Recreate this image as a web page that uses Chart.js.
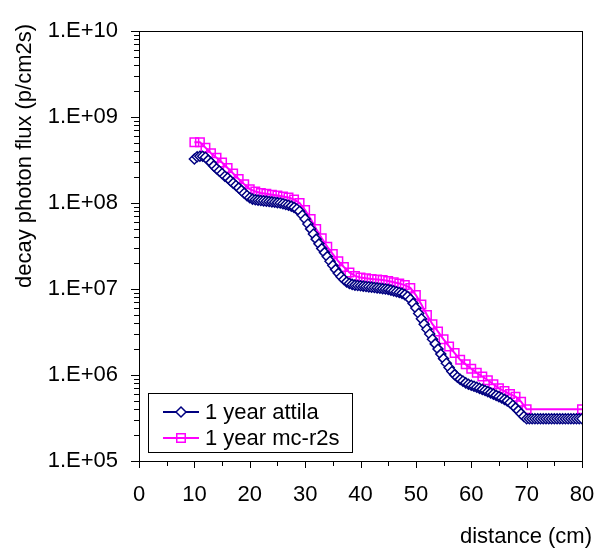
<!DOCTYPE html>
<html>
<head>
<meta charset="utf-8">
<script src="https://cdn.jsdelivr.net/npm/chart.js@4.4.1/dist/chart.umd.min.js"></script>
<style>
  body { margin: 0; background: #fff; }
</style>
</head>
<body>
<canvas id="grafico" width="604" height="550"></canvas>
<script>
// flujo de fotones de decaimiento, 1 año (attila, malla de 0.5 cm)
var attilaDist = [
  10, 10.5, 11, 11.5, 12, 12.5, 13, 13.5, 14, 14.5,
  15, 15.5, 16, 16.5, 17, 17.5, 18, 18.5, 19, 19.5,
  20, 20.5, 21, 21.5, 22, 22.5, 23, 23.5, 24, 24.5,
  25, 25.5, 26, 26.5, 27, 27.5, 28, 28.5, 29, 29.5,
  30, 30.5, 31, 31.5, 32, 32.5, 33, 33.5, 34, 34.5,
  35, 35.5, 36, 36.5, 37, 37.5, 38, 38.5, 39, 39.5,
  40, 40.5, 41, 41.5, 42, 42.5, 43, 43.5, 44, 44.5,
  45, 45.5, 46, 46.5, 47, 47.5, 48, 48.5, 49, 49.5,
  50, 50.5, 51, 51.5, 52, 52.5, 53, 53.5, 54, 54.5,
  55, 55.5, 56, 56.5, 57, 57.5, 58, 58.5, 59, 59.5,
  60, 60.5, 61, 61.5, 62, 62.5, 63, 63.5, 64, 64.5,
  65, 65.5, 66, 66.5, 67, 67.5, 68, 68.5, 69, 69.5,
  70, 70.5, 71, 71.5, 72, 72.5, 73, 73.5, 74, 74.5,
  75, 75.5, 76, 76.5, 77, 77.5, 78, 78.5, 79, 79.5,
  80
];
var attilaFlux = [
  3.25e8, 3.45e8, 3.5e8, 3.5e8, 3.4e8, 3.15e8, 2.95e8, 2.7e8, 2.5e8, 2.35e8,
  2.2e8, 2.05e8, 1.95e8, 1.82e8, 1.7e8, 1.6e8, 1.5e8, 1.4e8, 1.3e8, 1.22e8,
  1.15e8, 1.11e8, 1.09e8, 1.08e8, 1.07e8, 1.06e8, 1.05e8, 1.04e8, 1.03e8, 1.02e8,
  1.01e8, 1.0e8, 9.8e7, 9.6e7, 9.4e7, 9.2e7, 8.9e7, 8.5e7, 8.0e7, 7.2e7,
  6.5e7, 5.7e7, 5.0e7, 4.35e7, 3.8e7, 3.35e7, 2.95e7, 2.65e7, 2.38e7, 2.1e7,
  1.88e7, 1.68e7, 1.52e7, 1.39e7, 1.29e7, 1.21e7, 1.16e7, 1.13e7, 1.11e7, 1.1e7,
  1.09e7, 1.08e7, 1.07e7, 1.06e7, 1.05e7, 1.04e7, 1.03e7, 1.02e7, 1.01e7, 1.0e7,
  9.9e6, 9.7e6, 9.5e6, 9.3e6, 9.1e6, 8.9e6, 8.6e6, 8.2e6, 7.6e6, 6.8e6,
  6.0e6, 5.2e6, 4.5e6, 3.9e6, 3.4e6, 3.0e6, 2.6e6, 2.3e6, 2.0e6, 1.75e6,
  1.55e6, 1.37e6, 1.22e6, 1.1e6, 1.01e6, 9.4e5, 8.9e5, 8.5e5, 8.1e5, 7.8e5,
  7.6e5, 7.4e5, 7.2e5, 7.0e5, 6.8e5, 6.6e5, 6.4e5, 6.2e5, 6.0e5, 5.8e5,
  5.6e5, 5.4e5, 5.2e5, 5.0e5, 4.75e5, 4.45e5, 4.15e5, 3.85e5, 3.55e5, 3.3e5,
  3.1e5, 3.1e5, 3.1e5, 3.1e5, 3.1e5, 3.1e5, 3.1e5, 3.1e5, 3.1e5, 3.1e5,
  3.1e5, 3.1e5, 3.1e5, 3.1e5, 3.1e5, 3.1e5, 3.1e5, 3.1e5, 3.1e5, 3.1e5,
  3.1e5
];

// mismo caso calculado con mc-r2s (malla de 1 cm hasta 70 y punto final en 80)
var mcDist = [
  10, 11, 12, 13, 14, 15, 16, 17, 18, 19,
  20, 21, 22, 23, 24, 25, 26, 27, 28, 29,
  30, 31, 32, 33, 34, 35, 36, 37, 38, 39,
  40, 41, 42, 43, 44, 45, 46, 47, 48, 49,
  50, 51, 52, 53, 54, 55, 56, 57, 58, 59,
  60, 61, 62, 63, 64, 65, 66, 67, 68, 69,
  70, 80
];
var mcFlux = [
  5.1e8, 5.1e8, 4.4e8, 3.8e8, 3.35e8, 2.95e8, 2.55e8, 2.2e8, 1.9e8, 1.65e8,
  1.45e8, 1.36e8, 1.31e8, 1.28e8, 1.25e8, 1.22e8, 1.19e8, 1.16e8, 1.1e8, 1.0e8,
  8.3e7, 6.5e7, 5.0e7, 3.9e7, 3.1e7, 2.55e7, 2.1e7, 1.8e7, 1.56e7, 1.42e7,
  1.36e7, 1.33e7, 1.31e7, 1.29e7, 1.27e7, 1.24e7, 1.2e7, 1.16e7, 1.11e7, 1.03e7,
  8.5e6, 6.6e6, 5.0e6, 3.9e6, 3.2e6, 2.6e6, 2.15e6, 1.8e6, 1.5e6, 1.33e6,
  1.18e6, 1.06e6, 9.6e5, 8.7e5, 7.8e5, 7.0e5, 6.5e5, 6.0e5, 5.6e5, 4.9e5,
  4.0e5, 4.0e5
];

var nombres = ['1 year attila', '1 year mc-r2s'];
var xMarcas = [0, 5, 10, 15, 20, 25, 30, 35, 40, 45, 50, 55, 60, 65, 70, 75, 80];
var decadas = [1e5, 1e6, 1e7, 1e8, 1e9, 1e10];
var menores = [2, 3, 4, 5, 6, 7, 8, 9];

var fuente = '"Liberation Sans", Arial, sans-serif';

function puntos(xs, ys) {
  var res = [];
  for (var i = 0; i < xs.length; i++) res.push({ x: xs[i], y: ys[i] });
  return res;
}

function etiquetaExp(v) {
  var e = Math.round(Math.log10(v));
  return '1.E+' + (e < 10 ? '0' + e : e);
}

// marco, marcas de los ejes, titulos y leyenda
var marcoEjes = {
  id: 'marcoEjes',
  beforeDatasetsDraw: function (chart) {
    var ctx = chart.ctx, a = chart.chartArea;
    var sx = chart.scales.x, sy = chart.scales.y;
    ctx.save();
    ctx.strokeStyle = '#000';
    ctx.lineWidth = 1;
    ctx.strokeRect(a.left + 0.5, a.top + 0.5, a.right - a.left, a.bottom - a.top);
    ctx.beginPath();
    for (var i = 0; i < decadas.length; i++) {
      var y = Math.round(sy.getPixelForValue(decadas[i])) + 0.5;
      ctx.moveTo(a.left - 8, y); ctx.lineTo(a.left, y);
      if (i < decadas.length - 1) {
        for (var m = 0; m < menores.length; m++) {
          var ym = Math.round(sy.getPixelForValue(menores[m] * decadas[i])) + 0.5;
          ctx.moveTo(a.left - 5, ym); ctx.lineTo(a.left, ym);
        }
      }
    }
    for (var j = 0; j < xMarcas.length; j++) {
      var x = Math.round(sx.getPixelForValue(xMarcas[j])) + 0.5;
      ctx.moveTo(x, a.bottom); ctx.lineTo(x, a.bottom + (xMarcas[j] % 10 == 0 ? 7 : 5));
    }
    ctx.stroke();
    ctx.restore();
  },
  afterDraw: function (chart) {
    var ctx = chart.ctx;
    ctx.save();
    ctx.fillStyle = '#000';
    ctx.font = '22px ' + fuente;
    ctx.textBaseline = 'middle';
    ctx.textAlign = 'right';
    ctx.fillText('distance (cm)', 592, 537);
    ctx.save();
    ctx.translate(25, 156);
    ctx.rotate(-Math.PI / 2);
    ctx.textAlign = 'center';
    ctx.fillText('decay photon flux (p/cm2s)', 0, 0);
    ctx.restore();

    // leyenda
    ctx.fillStyle = '#fff';
    ctx.fillRect(148, 393, 205, 59);
    ctx.strokeStyle = '#000';
    ctx.lineWidth = 1;
    ctx.strokeRect(148.5, 393.5, 204, 59);
    var filas = [412, 438];
    chart.data.datasets.forEach(function (ds, k) {
      var yy = filas[k];
      ctx.strokeStyle = ds.borderColor;
      ctx.lineWidth = ds.borderWidth;
      ctx.beginPath();
      ctx.moveTo(163, yy); ctx.lineTo(199, yy);
      ctx.stroke();
      ctx.fillStyle = ds.pointBackgroundColor;
      ctx.strokeStyle = ds.pointBorderColor;
      ctx.lineWidth = ds.pointBorderWidth;
      Chart.helpers.drawPoint(ctx, {
        pointStyle: ds.pointStyle, radius: ds.pointRadius,
        borderWidth: ds.pointBorderWidth, rotation: 0
      }, 181, yy);
      ctx.fillStyle = '#000';
      ctx.textAlign = 'left';
      ctx.fillText(ds.label, 205, yy + 1);
    });
    ctx.restore();
  }
};

new Chart(document.getElementById('grafico'), {
  type: 'line',
  data: {
    datasets: [{
      label: nombres[0],
      data: puntos(attilaDist, attilaFlux),
      borderColor: '#000080',
      backgroundColor: '#ffffff',
      borderWidth: 2,
      pointStyle: 'rectRot',
      pointRadius: 5,
      pointBorderWidth: 1.5,
      pointBackgroundColor: '#ffffff',
      pointBorderColor: '#000080'
    }, {
      label: nombres[1],
      data: puntos(mcDist, mcFlux),
      borderColor: '#ff00ff',
      backgroundColor: 'rgba(0,0,0,0)',
      borderWidth: 2,
      pointStyle: 'rect',
      pointRadius: 6,
      pointBorderWidth: 1.5,
      pointBackgroundColor: 'rgba(0,0,0,0)',
      pointBorderColor: '#ff00ff'
    }]
  },
  options: {
    responsive: false,
    animation: false,
    layout: { padding: { top: 31, right: 22, left: 0, bottom: 0 } },
    plugins: { legend: { display: false }, tooltip: { enabled: false } },
    scales: {
      x: {
        type: 'linear', min: 0, max: 80,
        grid: { display: false, drawTicks: false },
        border: { display: false },
        afterFit: function (s) { s.height = 89; s.paddingLeft = 0; s.paddingRight = 0; },
        ticks: { stepSize: 10, padding: 21, color: '#000', font: { family: fuente, size: 22 } }
      },
      y: {
        type: 'logarithmic', min: 1e5, max: 1e10,
        grid: { display: false, drawTicks: false },
        border: { display: false },
        afterFit: function (s) { s.width = 139; s.paddingTop = 0; s.paddingBottom = 0; },
        afterBuildTicks: function (s) {
          s.ticks = decadas.map(function (v) { return { value: v, major: true }; });
        },
        ticks: {
          padding: 21, color: '#000', font: { family: fuente, size: 22 },
          callback: function (v) { return etiquetaExp(v); }
        }
      }
    }
  },
  plugins: [marcoEjes]
});
</script>
</body>
</html>
